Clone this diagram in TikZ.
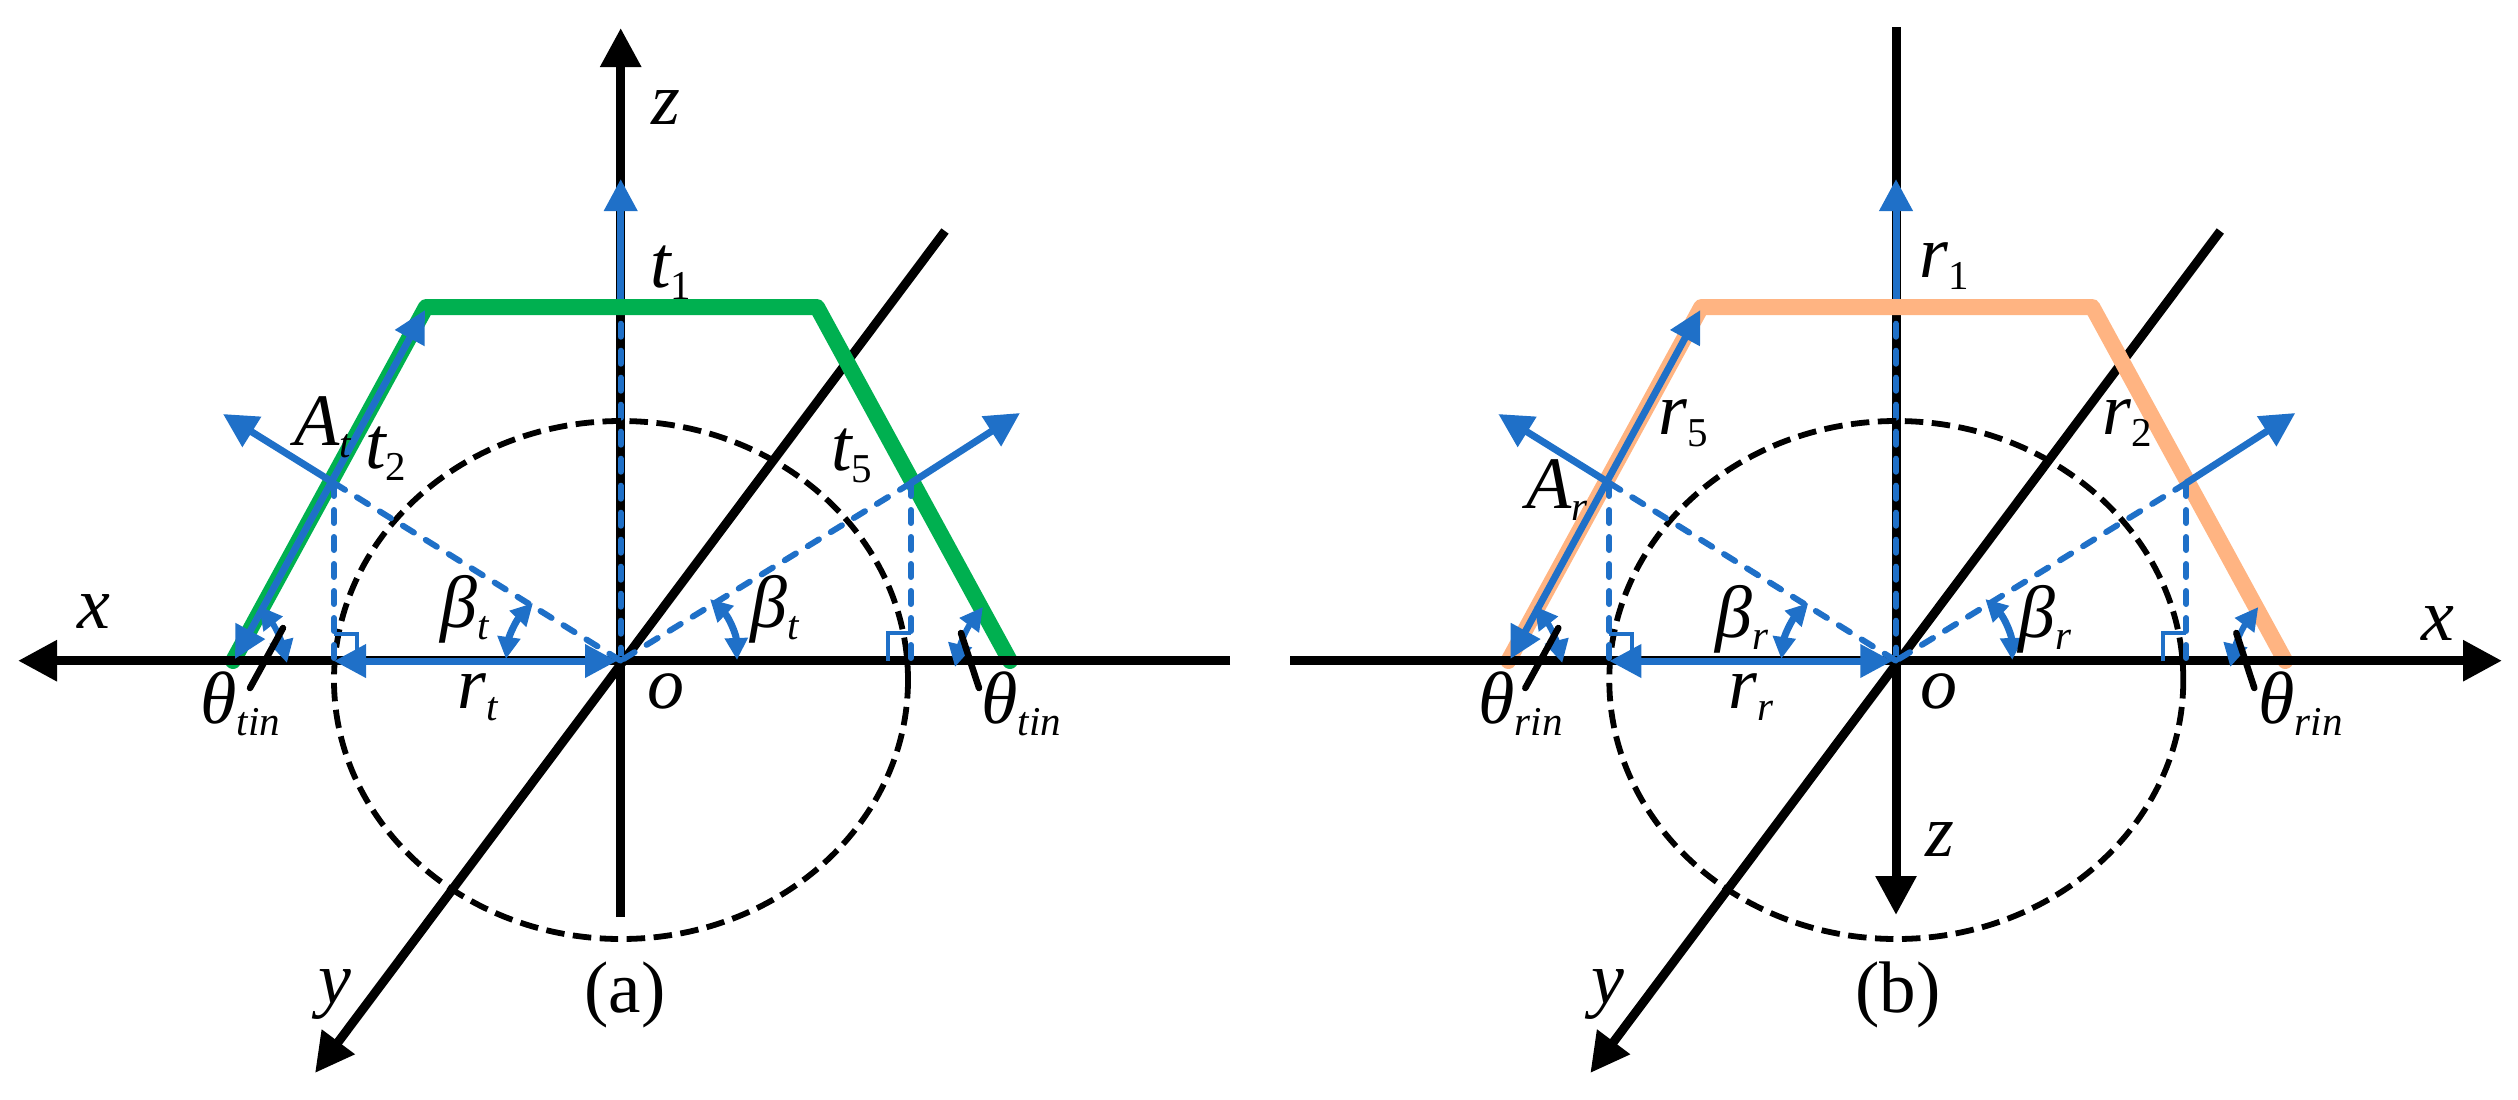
\documentclass[tikz,border=0pt]{standalone}
\usepackage{fontspec}
\setmainfont{Liberation Serif}
\usetikzlibrary{arrows.meta}
\definecolor{bl}{RGB}{31,112,200}
\definecolor{grn}{RGB}{0,176,80}
\definecolor{pch}{RGB}{255,180,130}
\newcommand{\tx}[2]{{\fontsize{37pt}{37pt}\selectfont\itshape #1}{\fontsize{20.5pt}{20.5pt}\selectfont\raisebox{-6pt}{\itshape #2}}}
\newcommand{\td}[2]{{\fontsize{37pt}{37pt}\selectfont\itshape #1}{\fontsize{20.5pt}{20.5pt}\selectfont\raisebox{-6pt}{\upshape #2}}}
\tikzset{
  axisline/.style={line width=4.5pt,black,line cap=round},
  axishead/.style={arrows={-Triangle[length=19.5pt,width=19.5pt]},line cap=butt},
  shapeline/.style={line width=8pt,line join=round,line cap=round},
  blueline/.style={line width=3.5pt,bl},
  bluedash/.style={line width=3pt,bl,line cap=round,dash pattern=on 6.5pt off 7pt},
  ringline/.style={line width=2.9pt,black,dash pattern=on 9.25pt off 4.25pt},
  tickline/.style={line width=3.25pt,black,line cap=round},
  square/.style={line width=2pt,bl},
  headone/.style={arrows={-Triangle[length=#1,width=#1]}},
  headtwo/.style={arrows={Triangle[length=#1,width=#1]-Triangle[length=#1,width=#1]}},
  lbl/.style={anchor=base west,inner sep=0pt,font=\fontsize{37pt}{37pt}\selectfont\itshape},
  captionlbl/.style={anchor=center,inner sep=0pt,font=\fontsize{36.5pt}{36.5pt}\selectfont\upshape}
}
\newcommand{\points}{
  \coordinate (O) at (620.7,660.7);
  \coordinate (Yend) at (945,231);
  \coordinate (Ytip) at (315,1073);
  \coordinate (BL) at (233,661);
  \coordinate (TL) at (426,307);
  \coordinate (TR) at (817,307);
  \coordinate (BR) at (1010,661);
  \coordinate (Zt) at (620.7,307);
  \coordinate (Zh) at (620.7,179);
  \coordinate (PL) at (334,483);
  \coordinate (PR) at (911,483);
  \coordinate (QL) at (334,661);
  \coordinate (QR) at (911,661);
  \coordinate (NL) at (223,414);
  \coordinate (NR) at (1020,413);
  \coordinate (AL) at (235,659);
  \coordinate (AT) at (425,310);
  \coordinate (C) at (621,680);
}
\newcommand{\backpart}{
  \draw[axisline,axishead] (Yend) -- (Ytip);
}
\newcommand{\zblue}{
  \draw[bluedash] (O) -- (Zt);
  \draw[blueline,headone=16pt] (Zt) -- (Zh);
}
\newcommand{\toppart}{
  \draw[ringline] (C) ellipse [x radius=287, y radius=259];
  \draw[bluedash] (PL) -- (O);
  \draw[bluedash] (PR) -- (O);
  \draw[bluedash] (PL) -- (QL);
  \draw[bluedash] (PR) -- (QR);
  \draw[blueline,headone=17pt] (PL) -- (NL);
  \draw[blueline,headone=17pt] (PR) -- (NR);
  \draw[blueline,headtwo=16pt] (AL) -- (AT);
  \draw[blueline,headtwo=16pt] (QL) -- (617,661);
  \coordinate (s1) at (334,634); \coordinate (s2) at (357,634); \coordinate (s3) at (357,653);
  \draw[square] (s1) -- (s2) -- (s3);
  \coordinate (s4) at (888,661); \coordinate (s5) at (888,633); \coordinate (s6) at (911,633);
  \draw[square] (s4) -- (s5) -- (s6);
  \coordinate (b1) at (506,659); \coordinate (b2) at (533,603);
  \coordinate (b3) at (737,660); \coordinate (b4) at (710,599);
  \coordinate (h1) at (287,663); \coordinate (h2) at (259,606);
  \coordinate (h3) at (955,667); \coordinate (h4) at (983,607);
  \draw[blueline,headtwo=11pt] (b1) to[bend left=18] (b2);
  \draw[blueline,headtwo=11pt] (b3) to[bend right=22] (b4);
  \draw[blueline,line width=3pt,headtwo=11.5pt] (h1) to[bend right=12] (h2);
  \draw[blueline,line width=3pt,headtwo=11.5pt] (h3) to[bend left=12] (h4);
  \coordinate (k1) at (283,628); \coordinate (k2) at (250,688);
  \coordinate (k3) at (961,633); \coordinate (k4) at (979,688);
  \draw[tickline] (k1) -- (k2);
  \draw[tickline] (k3) -- (k4);
}
\begin{document}
\begin{tikzpicture}[x=0.5pt,y=-0.5pt]
\useasboundingbox (0,0) rectangle (2518,1099);
% panel (a)
\begin{scope}[name prefix=a-]
  \points
  \backpart
  \coordinate (Ztop) at (620.7,28); \coordinate (Zbot) at (620.7,917);
  \draw[axisline,axishead] (Zbot) -- (Ztop);
  \zblue
  \node[lbl] (t1) at (650,287) {\td{t}{1}};
  \draw[shapeline,grn] (BL) -- (TL) -- (TR) -- (BR);
  \coordinate (Xr) at (1230,660.7); \coordinate (Xl) at (18,660.7);
  \draw[axisline,axishead] (Xr) -- (Xl);
  \toppart
  \node[lbl] (z) at (651,124) {z};
  \node[lbl] (x) at (77,628) {x};
  \node[lbl] (y) at (318,1003) {y};
  \node[lbl] (o) at (647,708) {o};
  \node[lbl] (t2) at (365,468) {\td{t}{2}};
  \node[lbl] (At) at (294,445) {\tx{A}{t}};
  \node[lbl] (t5) at (831,470) {\td{t}{5}};
  \node[lbl] (rt) at (457,708) {\tx{r}{t}};
  \node[lbl] (b1t) at (440,627) {\tx{β}{t}};
  \node[lbl] (b2t) at (750,627) {\tx{β}{t}};
  \node[lbl] (th1) at (200,723) {\tx{θ}{tin}};
  \node[lbl] (th2) at (981,723) {\tx{θ}{tin}};
  \node[captionlbl] (cpa) at (625,995) {(a)};
\end{scope}
% panel (b)
\begin{scope}[xshift=637.65pt,name prefix=b-]
  \points
  \backpart
  \coordinate (Ztop) at (620.7,27); \coordinate (Zbot) at (620.7,915);
  \draw[axisline,axishead] (Ztop) -- (Zbot);
  \zblue
  \node[lbl] (r1) at (643.7,277) {\td{r}{1}};
  \draw[shapeline,pch] (BL) -- (TL) -- (TR) -- (BR);
  \coordinate (Xl) at (14.7,660.7); \coordinate (Xr) at (1226.7,660.7);
  \draw[axisline,axishead] (Xl) -- (Xr);
  \toppart
  \node[lbl] (z) at (650,856) {z};
  \node[lbl] (x) at (1146,640) {x};
  \node[lbl] (y) at (316,1003) {y};
  \node[lbl] (o) at (645,708) {o};
  \node[lbl] (r5) at (382.7,434) {\td{r}{5}};
  \node[lbl] (r2) at (826.7,434) {\td{r}{2}};
  \node[lbl] (Ar) at (250.7,508) {\tx{A}{r}};
  \node[lbl] (rr) at (452.7,708) {\tx{r}{r}};
  \node[lbl] (b1r) at (439.7,637) {\tx{β}{r}};
  \node[lbl] (b2r) at (742.7,637) {\tx{β}{r}};
  \node[lbl] (th1) at (202.7,723) {\tx{θ}{rin}};
  \node[lbl] (th2) at (982.7,723) {\tx{θ}{rin}};
  \node[captionlbl] (cpb) at (622.7,995) {(b)};
\end{scope}
\end{tikzpicture}
\end{document}
